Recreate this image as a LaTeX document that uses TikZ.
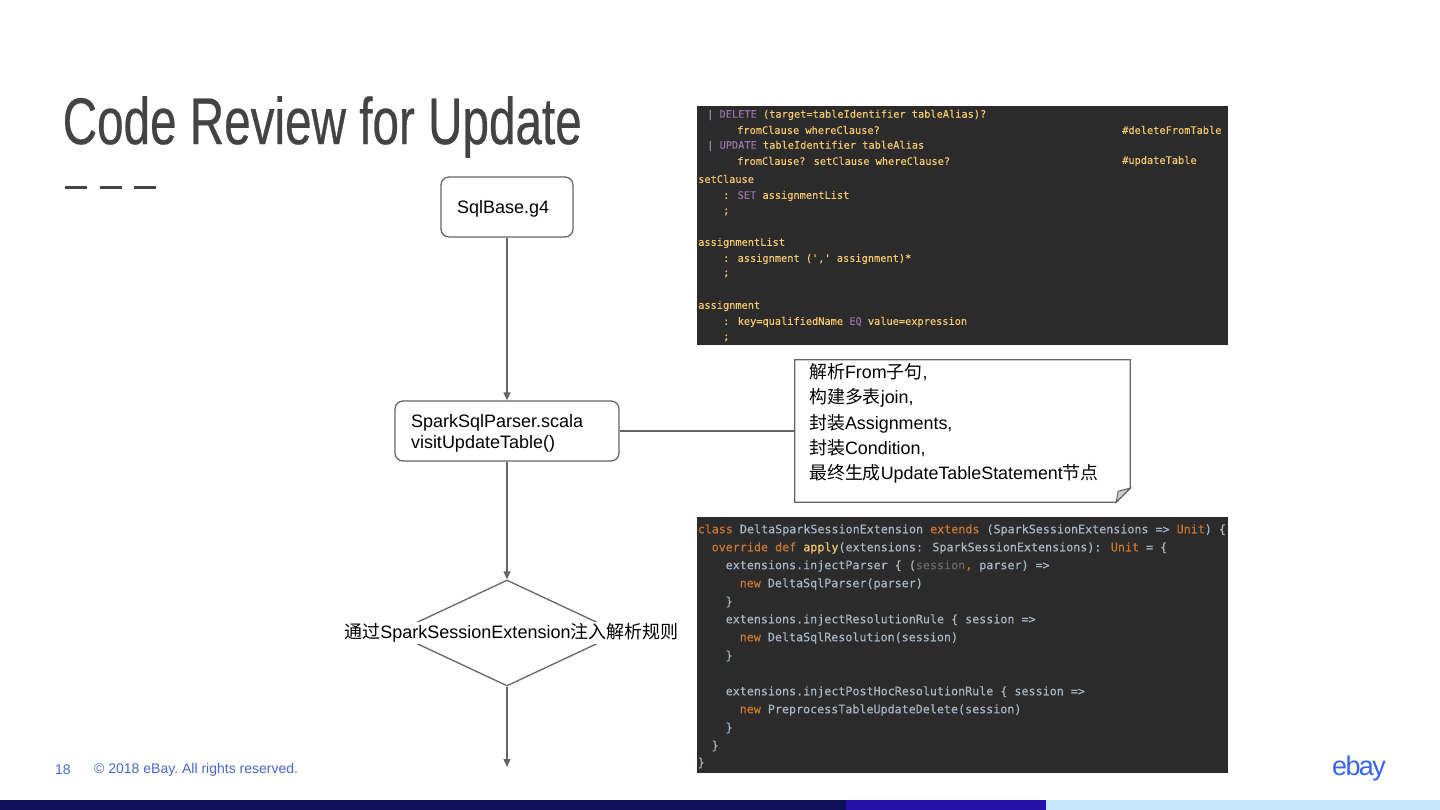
\documentclass[tikz,border=0pt]{standalone}
\usepackage{xcolor}
\usepackage{fontspec}
\setmainfont{Liberation Sans}
\newfontfamily\cjk{Noto Sans CJK SC}
\newfontfamily\codefont[FakeBold=0.25]{DejaVu Sans Mono}
\newfontfamily\titlefont[FakeStretch=0.722, FakeBold=0.4]{Liberation Sans}
\usetikzlibrary{shapes.geometric, arrows.meta, calc}
\definecolor{linegray}{RGB}{102, 102, 102}
\definecolor{titlegray}{RGB}{67, 67, 67}
\definecolor{footblue}{RGB}{74, 104, 205}
\definecolor{logoblue}{RGB}{54, 101, 243}
\definecolor{codebg}{RGB}{43, 43, 43}
\definecolor{codegold}{RGB}{245, 200, 110}
\definecolor{codepurple}{RGB}{152, 118, 170}
\definecolor{codeorange}{RGB}{204, 120, 50}
\definecolor{codeplain}{RGB}{169, 183, 198}
\definecolor{codegray}{RGB}{105, 105, 105}
\definecolor{barnavy}{RGB}{15, 16, 90}
\definecolor{barindigo}{RGB}{38, 16, 170}
\definecolor{barsky}{RGB}{197, 229, 250}
\newcommand{\zh}[1]{{\cjk #1}}
\newcommand{\kwp}[1]{\textcolor{codepurple}{#1}}
\newcommand{\kwo}[1]{\textcolor{codeorange}{#1}}
\newcommand{\fnc}[1]{\textcolor{codegold}{#1}}
\newcommand{\unused}[1]{\textcolor{codegray}{#1}}

\begin{document}
\begin{tikzpicture}[
    x=1pt, y=-1pt,
    box/.style={rectangle, draw=linegray, line width=1.3pt, rounded corners=8pt, minimum height=60pt, inner xsep=16pt, inner ysep=0pt, align=left, font=\fontsize{18}{21}\selectfont, text=black, execute at end node=\vspace{-4pt}},
    decision/.style={diamond, draw=linegray, line width=1.3pt, minimum width=226pt, minimum height=106pt, shape aspect=2.13, inner sep=5pt},
    note/.style={rectangle, minimum width=335pt, minimum height=142pt, inner sep=0pt},
    arrow/.style={line width=1.3pt, color=linegray, -{Triangle[length=8pt, width=7pt]}},
    panel/.style={rectangle, fill=codebg, inner sep=0pt},
    grammar/.style={anchor=west, inner sep=0pt, text=codegold, font=\codefont\fontsize{10.3}{12}\selectfont},
    scala/.style={anchor=west, inner sep=0pt, text=codeplain, font=\codefont\fontsize{11.7}{14}\selectfont},
    foot/.style={anchor=west, inner sep=0pt, text=footblue, font=\fontsize{14}{16}\selectfont\frenchspacing}
]
\useasboundingbox (0,0) rectangle (1440,810);
\fill[white] (0,0) rectangle (1440,810);

% Title and the three dashes below it
\node[anchor=west, inner sep=0pt, text=titlegray, font=\titlefont\fontsize{66}{70}\selectfont] (title) at (62.5,127) {Code Review for Update};
\coordinate (dashstart) at (65,187.5);
\coordinate (dashend) at (156,187.5);
\draw[line width=3pt, color=titlegray, dash pattern=on 22pt off 12.5pt] (dashstart) -- (dashend);

% Flow chart
\node[box, text width=100pt] (sqlbase) at (507,207) {SqlBase.g4};
\node[box, text width=192pt] (parser) at (507,431) {SparkSqlParser.scala\\visitUpdateTable()};
\node[decision] (inject) at (507,633) {};
\node[fill=white, inner sep=0pt, minimum height=22pt, font=\fontsize{18}{21}\selectfont, text=black] (injectlabel) at (511.5,632.5) {\zh{通过}SparkSessionExtension\zh{注入解析规则}};
\coordinate (flowend) at (507,767);

% Note with folded corner
\node[note] (notebox) at (962.5,431) {};
\draw[line width=1.3pt, color=linegray, fill=white] (notebox.north west) -- (notebox.north east) -- ($(notebox.south east)+(0,-14)$) -- ($(notebox.south east)+(-14,0)$) -- (notebox.south west) -- cycle;
\draw[line width=1pt, color=linegray, fill=black!20] ($(notebox.south east)+(0,-14)$) -- ($(notebox.south east)+(-12,-11)$) -- ($(notebox.south east)+(-14,0)$) -- cycle;
\node[anchor=north west, inner sep=0pt, align=left, font=\fontsize{17.9}{25.4}\selectfont, text=black] (notetext) at (809,363) {\zh{解析}From\zh{子句},\\\zh{构建多表}join,\\\zh{封装}Assignments,\\\zh{封装}Condition,\\\zh{最终生成}UpdateTableStatement\zh{节点}};

\draw[arrow] (sqlbase) -- (parser);
\draw[arrow] (parser) -- (inject);
\draw[arrow] (inject) -- (flowend);
\draw[line width=1.3pt, color=linegray] (parser) -- (notebox);

% Grammar screenshot
\node[panel, minimum width=531pt, minimum height=239pt] (grammarpanel) at (962.5,225.5) {};
\foreach \ypos/\xpos/\codeline in {
    115/707/{\textcolor{codeplain}{|} \kwp{DELETE} (target=tableIdentifier tableAlias)?},
    130/737/{fromClause whereClause?},
    130/1122/{\#deleteFromTable},
    146/707/{\textcolor{codeplain}{|} \kwp{UPDATE} tableIdentifier tableAlias},
    161/737/{fromClause? setClause whereClause?},
    161/1122/{\#updateTable},
    179/698/{setClause},
    196/723/{: \kwp{SET} assignmentList},
    212/723/{;},
    243/698/{assignmentList},
    259/723/{: assignment (',' assignment)*},
    274/723/{;},
    306/698/{assignment},
    322/723/{: key=qualifiedName \kwp{EQ} value=expression},
    338/723/{;}} {
    \node[grammar] (grammar\ypos\xpos) at (\xpos,\ypos) {\codeline};
}

% Extension screenshot
\node[panel, minimum width=531pt, minimum height=256pt] (scalapanel) at (962.5,645) {};
\foreach \ypos/\xpos/\codeline in {
    530/697.5/{\kwo{class} DeltaSparkSessionExtension \kwo{extends} (SparkSessionExtensions => \kwo{Unit}) \{},
    548/711.5/{\kwo{override def} \fnc{apply}(extensions: SparkSessionExtensions): \kwo{Unit} = \{},
    566/725.5/{extensions.injectParser \{ (\unused{session}\kwo{,} parser) =>},
    584/739.5/{\kwo{new} DeltaSqlParser(parser)},
    602/725.5/{\}},
    620/725.5/{extensions.injectResolutionRule \{ session =>},
    638/739.5/{\kwo{new} DeltaSqlResolution(session)},
    656/725.5/{\}},
    692/725.5/{extensions.injectPostHocResolutionRule \{ session =>},
    710/739.5/{\kwo{new} PreprocessTableUpdateDelete(session)},
    728/725.5/{\}},
    746/711.5/{\}},
    763/697.5/{\}}} {
    \node[scala] (scala\ypos) at (\xpos,\ypos) {\codeline};
}

% Footer
\node[foot] (pagenum) at (55,769.5) {18};
\node[foot] (copyright) at (94,769.5) {© 2018 eBay. All rights reserved.};
\node[anchor=center, inner sep=0pt, text=logoblue, font=\fontsize{27}{30}\selectfont\addfontfeature{LetterSpace=-6}] (logo) at (1359,769) {ebay};
\fill[barnavy] (0,800) rectangle (846,810);
\fill[barindigo] (846,800) rectangle (1046,810);
\fill[barsky] (1046,800) rectangle (1440,810);

\end{tikzpicture}
\end{document}
